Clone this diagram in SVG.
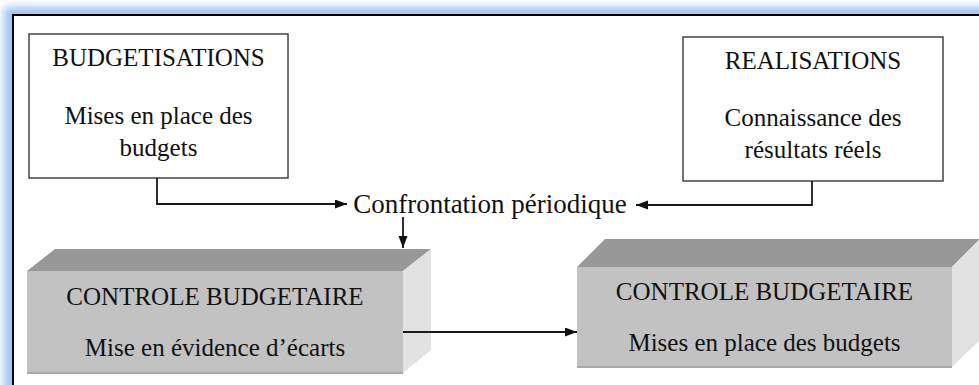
<svg xmlns="http://www.w3.org/2000/svg" width="979" height="385" viewBox="0 0 979 385">
<defs>
<filter id="glow" x="-10%" y="-10%" width="120%" height="120%"><feGaussianBlur stdDeviation="4"/></filter>
<marker id="arr" markerUnits="userSpaceOnUse" markerWidth="13" markerHeight="10" refX="12" refY="4.5" orient="auto"><path d="M0,0 L12,4.5 L0,9 z" fill="#111"/></marker>
<style>
text{font-family:"Liberation Serif","Times New Roman",serif;fill:#111;text-anchor:middle;font-size:25px}
.box{fill:#fff;stroke:#444;stroke-width:1.5}
.front{fill:#c2c2c2}
.top{fill:#989898}
.side{fill:#e2e2e2}
.edge{stroke:#a8a8a8;stroke-width:2}
.con{fill:none;stroke:#1a1a1a;stroke-width:1.8;marker-end:url(#arr)}
</style>
</defs>
<rect width="979" height="385" fill="#fff"/>
<rect x="4" y="7" width="1000" height="420" fill="#9cc2f0" filter="url(#glow)"/>
<rect x="13" y="15" width="1000" height="400" fill="#fff" stroke="#000" stroke-width="2"/>
<g id="budgetisations">
<rect class="box" x="29" y="34" width="259" height="144"/>
<text x="158.5" y="66">BUDGETISATIONS</text>
<text x="158.5" y="124">Mises en place des</text>
<text x="158.5" y="156">budgets</text>
</g>
<g id="realisations">
<rect class="box" x="683" y="37" width="260" height="144"/>
<text x="813" y="69">REALISATIONS</text>
<text x="813" y="126">Connaissance des</text>
<text x="813" y="158">résultats réels</text>
</g>
<g id="confrontation">
<text x="490" y="213" style="font-size:27px">Confrontation périodique</text>
</g>
<g id="controle1">
<polygon class="top" points="27,271 403,271 431,249 55,249"/>
<polygon class="side" points="403,271 431,249 431,350 403,373"/>
<rect class="front" x="27" y="271" width="376" height="102"/>
<line class="edge" x1="27" y1="373" x2="403" y2="373"/>
<text x="215" y="305">CONTROLE BUDGETAIRE</text>
<text x="215" y="356">Mise en évidence d’écarts</text>
</g>
<g id="controle2">
<polygon class="top" points="577,267 952,267 980,239 605,239"/>
<polygon class="side" points="952,267 980,239 980,340 952,367"/>
<rect class="front" x="577" y="267" width="375" height="100"/>
<line class="edge" x1="577" y1="367" x2="952" y2="367"/>
<text x="764.5" y="300">CONTROLE BUDGETAIRE</text>
<text x="764.5" y="351">Mises en place des budgets</text>
</g>
<g id="connectors">
<path class="con" d="M157,178 V204 H347"/>
<path class="con" d="M812,181 V205 H636"/>
<path class="con" d="M403,217 V248"/>
<path class="con" d="M403,332 H577"/>
</g>
</svg>
